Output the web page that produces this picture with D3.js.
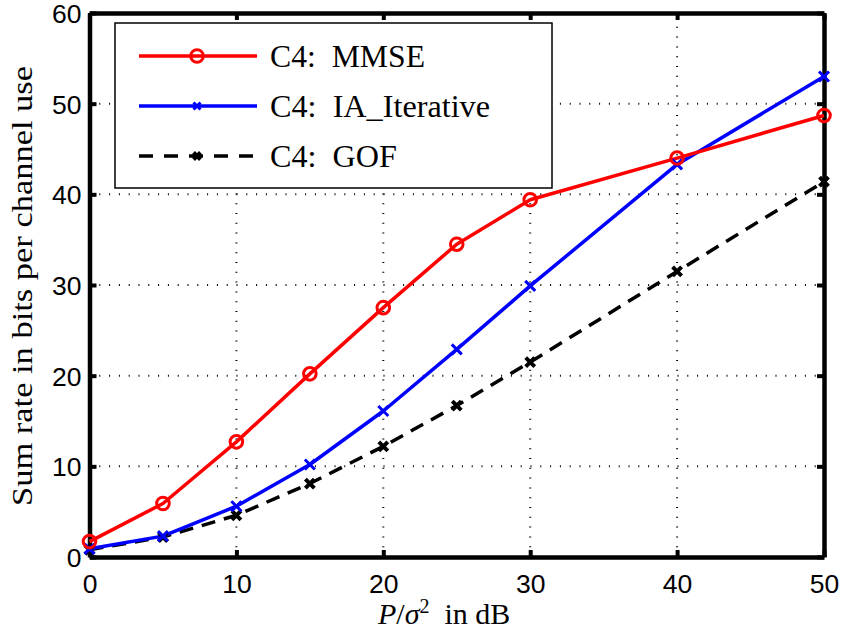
<!DOCTYPE html>
<html>
<head>
<meta charset="utf-8">
<script src="https://cdn.jsdelivr.net/npm/d3@7"></script>
<style>
  body { margin: 0; background: #fff; }
  svg { display: block; }
</style>
</head>
<body>
<svg id="chart" width="843" height="637"></svg>
<script>
const snr = [0, 5, 10, 15, 20, 25, 30, 40, 50];
const mmse = [1.7, 5.9, 12.7, 20.2, 27.5, 34.5, 39.4, 44.0, 48.7];
const iaIterative = [0.9, 2.3, 5.6, 10.2, 16.1, 22.9, 29.9, 43.3, 53.0];
const gof = [0.8, 2.2, 4.6, 8.1, 12.2, 16.7, 21.5, 31.5, 41.4];
const xTicks = [0, 10, 20, 30, 40, 50];
const yTicks = [0, 10, 20, 30, 40, 50, 60];
const seriesNames = ["C4:  MMSE", "C4:  IA_Iterative", "C4:  GOF"];

const svg = d3.select("#chart");
const L = 89.5, R = 824, T = 13, B = 557;
const x = d3.scaleLinear().domain([0, 50]).range([L, R]);
const y = d3.scaleLinear().domain([0, 60]).range([B, T]);

// grid
const grid = svg.append("g");
grid.selectAll("line.vg").data(xTicks.slice(1, -1)).enter().append("line")
  .attr("x1", d => x(d)).attr("x2", d => x(d)).attr("y1", B).attr("y2", T)
  .attr("stroke", "#000").attr("stroke-width", 2).attr("stroke-dasharray", "1 8.8");
grid.selectAll("line.hg").data(yTicks.slice(1, -1)).enter().append("line")
  .attr("x1", L).attr("x2", R).attr("y1", d => y(d)).attr("y2", d => y(d))
  .attr("stroke", "#000").attr("stroke-width", 2).attr("stroke-dasharray", "1 8.8");

// axes with inner ticks
const fontSans = "'Liberation Sans', Arial, sans-serif";
const fontSerif = "'Liberation Serif', 'Times New Roman', serif";
const axB = svg.append("g").attr("transform", `translate(0,${B})`)
  .call(d3.axisBottom(x).tickValues(xTicks).tickSizeInner(-7).tickSizeOuter(0).tickPadding(17));
const axT = svg.append("g").attr("transform", `translate(0,${T})`)
  .call(d3.axisTop(x).tickValues(xTicks).tickSizeInner(-7).tickSizeOuter(0).tickFormat(""));
const axL = svg.append("g").attr("transform", `translate(${L},0)`)
  .call(d3.axisLeft(y).tickValues(yTicks).tickSizeInner(-7).tickSizeOuter(0).tickPadding(8));
const axR = svg.append("g").attr("transform", `translate(${R},0)`)
  .call(d3.axisRight(y).tickValues(yTicks).tickSizeInner(-7).tickSizeOuter(0).tickFormat(""));
[axB, axT, axL, axR].forEach(g => {
  g.selectAll(".domain").attr("stroke", "#000").attr("stroke-width", 4.5);
  g.selectAll(".tick line").attr("stroke", "#000").attr("stroke-width", 4);
  g.selectAll("text").attr("font-family", fontSans).attr("font-size", 26.5).attr("fill", "#000");
});
axL.selectAll(".tick text").attr("dy", "0.36em");

// lines
const line = d3.line().x((d, i) => x(snr[i])).y(d => y(d));
function drawSeries(vals, color, dash, width) {
  svg.append("path").datum(vals).attr("d", line).attr("fill", "none")
    .attr("stroke", color).attr("stroke-width", width)
    .attr("stroke-dasharray", dash || null).attr("stroke-linejoin", "round");
}
function circleMarker(g, cx, cy, color) {
  g.append("circle").attr("cx", cx).attr("cy", cy).attr("r", 6.3)
    .attr("fill", "none").attr("stroke", color).attr("stroke-width", 3);
}
function xMarker(g, cx, cy, color, s, w) {
  g.append("path").attr("d", `M${cx - s},${cy - s}L${cx + s},${cy + s}M${cx - s},${cy + s}L${cx + s},${cy - s}`)
    .attr("stroke", color).attr("stroke-width", w).attr("fill", "none");
}
drawSeries(gof, "#000", "14 9", 3.5);
drawSeries(iaIterative, "#0000ff", null, 3.5);
drawSeries(mmse, "#ff0000", null, 3.5);
const mk = svg.append("g");
gof.forEach((v, i) => xMarker(mk, x(snr[i]), y(v), "#000", 4.5, 4));
iaIterative.forEach((v, i) => xMarker(mk, x(snr[i]), y(v), "#0000ff", 5, 3));
mmse.forEach((v, i) => circleMarker(mk, x(snr[i]), y(v), "#ff0000"));

// legend
const lg = svg.append("g");
lg.append("rect").attr("x", 115).attr("y", 23).attr("width", 437).attr("height", 165)
  .attr("fill", "#fff").attr("stroke", "#000").attr("stroke-width", 1.5);
const rowsY = [56, 106, 156];
const textW = [155, 220, 127];
const lgStyles = [
  { color: "#ff0000", dash: null, m: "o" },
  { color: "#0000ff", dash: null, m: "x" },
  { color: "#000", dash: "14 11", m: "X" }
];
seriesNames.forEach((name, i) => {
  const yy = rowsY[i], st = lgStyles[i];
  lg.append("line").attr("x1", 139).attr("x2", 257).attr("y1", yy).attr("y2", yy)
    .attr("stroke", st.color).attr("stroke-width", 3.5).attr("stroke-dasharray", st.dash);
  if (st.m === "o") circleMarker(lg, 197, yy, st.color);
  else if (st.m === "x") xMarker(lg, 197, yy, st.color, 3.5, 3);
  else xMarker(lg, 197, yy, st.color, 3.5, 4);
  lg.append("text").attr("x", 270).attr("y", yy + 11)
    .attr("font-family", fontSerif).attr("font-size", 31).attr("fill", "#000")
    .style("white-space", "pre")
    .attr("textLength", textW[i]).attr("lengthAdjust", "spacingAndGlyphs")
    .text(name);
});

// axis titles
const xl = svg.append("text").attr("x", 378).attr("y", 624)
  .attr("font-family", fontSerif).attr("font-size", 30).attr("fill", "#000")
  .style("white-space", "pre");
xl.append("tspan").text("P").attr("font-style", "italic");
xl.append("tspan").text("/");
xl.append("tspan").text("σ").attr("font-style", "italic");
xl.append("tspan").text("2").attr("font-size", 20).attr("dy", -11);
xl.append("tspan").text("  in dB").attr("dy", 11);

svg.append("text").attr("transform", "translate(32,286) rotate(-90)").attr("text-anchor", "middle")
  .attr("font-family", fontSerif).attr("font-size", 30).attr("fill", "#000")
  .attr("textLength", 440).attr("lengthAdjust", "spacingAndGlyphs")
  .text("Sum rate in bits per channel use");
</script>
</body>
</html>
